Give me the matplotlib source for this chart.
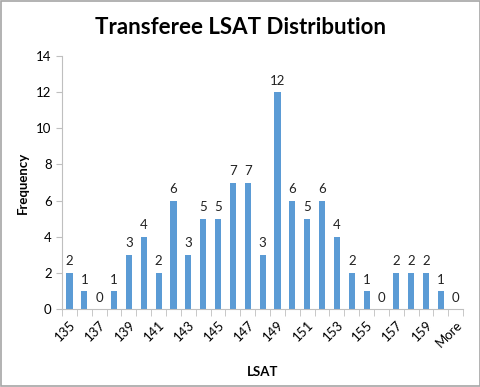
import matplotlib
matplotlib.use("Agg")
import matplotlib.pyplot as plt
import numpy as np

categories = [str(v) for v in range(135, 161)] + ["More"]
frequency = [2, 1, 0, 1, 3, 4, 2, 6, 3, 5, 5, 7, 7, 3, 12, 6, 5, 6, 4, 2, 1, 0, 2, 2, 2, 1, 0]

plt.rcParams["font.family"] = ["Lato", "DejaVu Sans"]

fig = plt.figure(figsize=(4.81, 3.87), dpi=100)
ax = fig.add_axes([0.129, 0.2016, 0.834, 0.6534])

x = np.arange(len(categories))
bars = ax.bar(x, frequency, width=0.42, color="#5B9BD5")

for xi, v in zip(x, frequency):
    ax.text(xi, v + 0.3, str(v), ha="center", va="bottom", fontsize=9.5, color="#222222")

ax.set_xlim(-0.5, len(categories) - 0.5)
ax.set_ylim(0, 14)
ax.set_yticks(range(0, 15, 2))
ax.set_xticks(x[::2])
ax.set_xticklabels(categories[::2], rotation=45, ha="right", rotation_mode="anchor", fontsize=9.5)
ax.set_xticks(np.arange(-0.5, len(categories), 1), minor=True)
ax.tick_params(axis="x", which="major", length=0, pad=7)
ax.tick_params(axis="x", which="minor", length=5, color="#BFBFBF")
ax.tick_params(axis="y", length=4, color="#BFBFBF", labelsize=9.5)

for side in ["top", "right"]:
    ax.spines[side].set_visible(False)
ax.spines["left"].set_color("#BFBFBF")
ax.spines["bottom"].set_color("#BFBFBF")

ax.set_xlabel("LSAT", fontsize=9.5, fontweight="bold", labelpad=12)
ax.set_ylabel("Frequency", fontsize=9.5, fontweight="bold", labelpad=5)
fig.suptitle("Transferee LSAT Distribution", fontsize=16, fontweight="bold", y=0.955)

fig.patches.append(plt.Rectangle((0.002, 0.002), 0.996, 0.996, transform=fig.transFigure,
                                 fill=False, edgecolor="#A6A6A6", linewidth=1.2))

fig.savefig("out.png", dpi=100)
